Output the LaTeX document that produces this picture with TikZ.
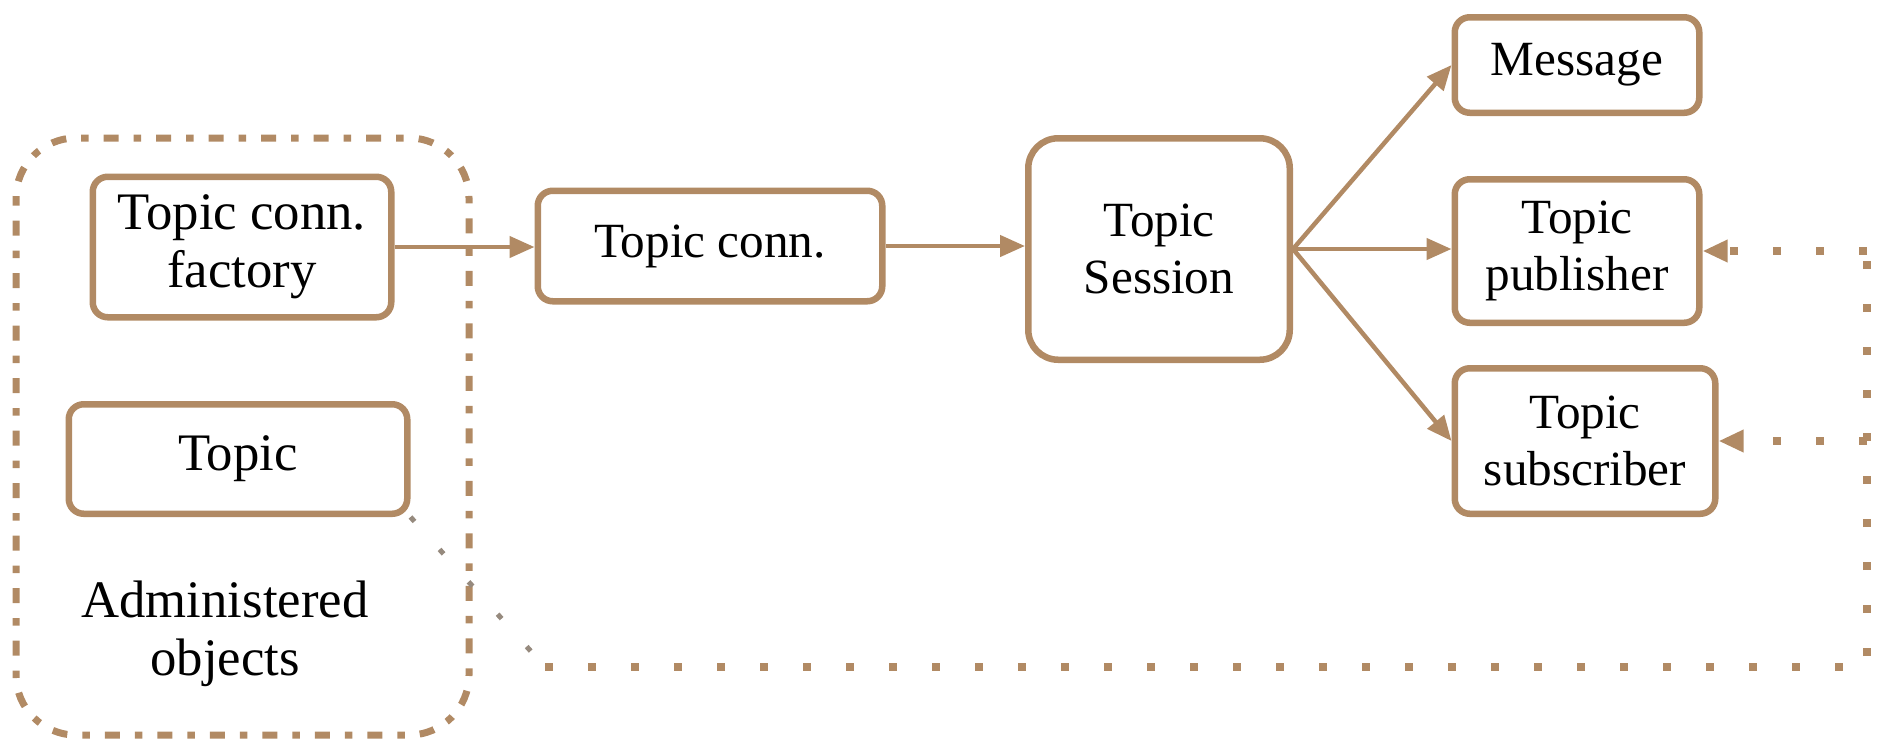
\documentclass[tikz,border=0pt]{standalone}
\usepackage{fontspec}
\setmainfont{Liberation Serif}
\usepackage{tikz}
\usetikzlibrary{arrows.meta}
\definecolor{brn}{RGB}{177,138,100}
\definecolor{fade}{RGB}{150,138,126}
\tikzset{
    obj/.style={draw=brn, line width=0.13cm, rounded corners=0.3cm, inner sep=0pt,
        align=center, font=\fontsize{28}{32}\selectfont},
    big/.style={font=\fontsize{30}{33}\selectfont},
    -tip-/.style={-{Triangle[length=0.5cm,width=0.42cm]}, draw=brn, fill=brn, line width=0.09cm},
    grp/.style={draw=brn, line width=0.14cm, rounded corners=1.2cm,
        dash pattern=on 0.15cm off 0.3cm on 0.3cm off 0.3cm},
    link-dot/.style={draw=brn, line width=0.17cm, dash pattern=on 0.16cm off 0.7cm}
}

\begin{document}
\begin{tikzpicture}
                \useasboundingbox (0,0) rectangle (37.56,-14.88);

                % administered objects
                \draw[grp] (0.32,-2.76) rectangle (9.38,-14.7);
                \node[obj, big, minimum width=5.97cm, minimum height=2.81cm] (fac) at (4.84,-4.94) {Topic conn.\\factory};
                \node[obj, big, minimum width=6.77cm, minimum height=2.19cm] (tpc) at (4.76,-9.18) {Topic};
                \node[align=center, big] (adm) at (4.5,-12.68) {Administered\\objects};

                % connection and session
                \node[obj, minimum width=6.89cm, minimum height=2.21cm] (conn) at (14.2,-4.92) {Topic conn.};
                \node[obj, rounded corners=0.6cm, minimum width=5.23cm, minimum height=4.43cm] (sess) at (23.18,-4.98) {Topic\\Session};

                % what the session creates
                \node[obj, minimum width=4.89cm, minimum height=1.91cm] (msg) at (31.54,-1.3) {Message};
                \node[obj, minimum width=4.89cm, minimum height=2.87cm] (pub) at (31.54,-5.02) {Topic\\publisher};
                \node[obj, minimum width=5.21cm, minimum height=2.91cm] (sub) at (31.7,-8.82) {Topic\\subscriber};

                \draw[-tip-] (fac.east) -- (fac.east -| conn.west);
                \draw[-tip-] (conn.east) -- (conn.east -| sess.west);
                \draw[-tip-] (sess.east) -- (msg.west);
                \draw[-tip-] (sess.east) -- (sess.east -| pub.west);
                \draw[-tip-] (sess.east) -- (sub.west);

                % topic used by publisher and subscriber
                \coordinate (bend) at (10.9,-13.34);
                \coordinate (low) at (37.34,-13.34);
                \coordinate (top) at (37.34,-5.02);
                \coordinate (mid) at (37.34,-8.82);
                \draw[fade, line width=0.1cm, dash pattern=on 0.12cm off 0.75cm] (tpc.south east) -- (bend);
                \draw[link-dot] (bend) -- (low) -- (top);
                \draw[link-dot, -{Triangle[length=0.5cm,width=0.42cm]}] (top) -- (pub.east);
                \draw[link-dot, -{Triangle[length=0.5cm,width=0.42cm]}] (mid) -- (sub.east);
            \end{tikzpicture}
\end{document}
